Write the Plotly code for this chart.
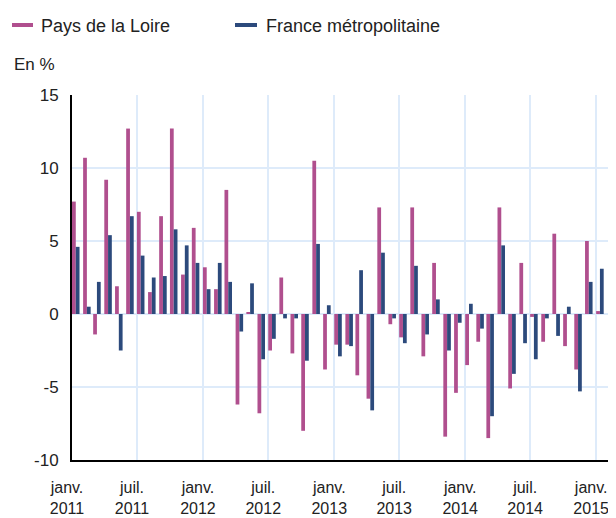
import plotly.graph_objects as go

months = [f"{y}-{m:02d}-01" for y in range(2011, 2015) for m in range(1, 13)] + ["2015-01-01"]

pays_de_la_loire = [
    7.7, 10.7, -1.4, 9.2, 1.9, 12.7, 7.0, 1.5, 6.7, 12.7, 2.7, 5.9,
    3.2, 1.7, 8.5, -6.2, 0.1, -6.8, -2.5, 2.5, -2.7, -8.0, 10.5, -3.8,
    -2.1, -2.1, -4.2, -5.8, 7.3, -0.7, -1.6, 7.3, -2.9, 3.5, -8.4, -5.4,
    -3.5, -1.9, -8.5, 7.3, -5.1, 3.5, -0.2, -1.9, 5.5, -2.2, -3.8, 5.0,
    0.2,
]
france_metro = [
    4.6, 0.5, 2.2, 5.4, -2.5, 6.7, 4.0, 2.5, 2.6, 5.8, 4.7, 3.5,
    1.7, 3.5, 2.2, -1.2, 2.1, -3.1, -1.7, -0.3, -0.3, -3.2, 4.8, 0.6,
    -2.9, -2.2, 3.0, -6.6, 4.2, -0.3, -2.0, 3.3, -1.4, 1.0, -2.5, -0.6,
    0.7, -1.0, -7.0, 4.7, -4.1, -2.0, -3.1, -0.3, -1.5, 0.5, -5.3, 2.2,
    3.1,
]
series_names = ["Pays de la Loire", "France métropolitaine"]
tick_dates = ["2011-01-01", "2011-07-01", "2012-01-01", "2012-07-01", "2013-01-01",
              "2013-07-01", "2014-01-01", "2014-07-01", "2015-01-01"]
tick_labels = ["janv.<br>2011", "juil.<br>2011", "janv.<br>2012", "juil.<br>2012",
               "janv.<br>2013", "juil.<br>2013", "janv.<br>2014", "juil.<br>2014",
               "janv.<br>2015"]
y_ticks = [-10, -5, 0, 5, 10, 15]
y_tick_labels = ["-10", "-5", "0", "5", "10", "15"]
unit_label = "En %"

PINK = "#b04f8e"
BLUE = "#2c4a7c"
DAY = 86400000
W = 10.5 * DAY
FONT = "Liberation Sans, Arial, sans-serif"

fig = go.Figure()
fig.add_trace(go.Bar(x=months, y=pays_de_la_loire, name=series_names[0],
                     marker=dict(color=PINK, line=dict(width=0)),
                     width=[W] * len(months), offset=0))
fig.add_trace(go.Bar(x=months, y=france_metro, name=series_names[1],
                     marker=dict(color=BLUE, line=dict(width=0)),
                     width=[W] * len(months), offset=W))

# plot area in screenshot pixels; page body adds an 8px offset
OFF = 8
L, R, T, B = 72, 608, 95, 460
PW, PH = R - L, B - T
def px(x):
    return (x - L) / PW
def py(y):
    return (B - y) / PH

shapes = [
    dict(type="rect", xref="paper", yref="paper", x0=px(12), x1=px(33), y0=py(27), y1=py(23),
         fillcolor=PINK, line=dict(width=0)),
    dict(type="rect", xref="paper", yref="paper", x0=px(235), x1=px(257), y0=py(27), y1=py(23),
         fillcolor=BLUE, line=dict(width=0)),
]
annotations = [
    dict(text=series_names[0], xref="paper", yref="paper", x=px(39), y=py(26),
         xanchor="left", yanchor="middle", showarrow=False,
         font=dict(family=FONT, size=18, color="#222")),
    dict(text=series_names[1], xref="paper", yref="paper", x=px(264), y=py(26),
         xanchor="left", yanchor="middle", showarrow=False,
         font=dict(family=FONT, size=18, color="#222")),
    dict(text=unit_label, xref="paper", yref="paper", x=px(12), y=py(64),
         xanchor="left", yanchor="middle", showarrow=False,
         font=dict(family=FONT, size=17, color="#222")),
]

fig.update_layout(
    width=616, height=518,
    margin=dict(l=L - OFF, r=616 - (R - OFF), t=T - OFF, b=518 - (B - OFF), pad=0,
                autoexpand=False),
    paper_bgcolor="white", plot_bgcolor="white",
    showlegend=False,
    barmode="overlay",
    shapes=shapes, annotations=annotations,
    font=dict(family=FONT, size=16, color="#222"),
)
fig.update_xaxes(
    type="date", range=["2011-01-01", "2015-02-03"], automargin=False,
    tickmode="array", tickvals=tick_dates, ticktext=tick_labels,
    showgrid=True, gridcolor="#deebfa", gridwidth=1.5,
    showline=True, linecolor="black", linewidth=2,
    ticks="outside", ticklen=12, tickcolor="rgba(0,0,0,0)",
    ticklabelshift=-5,
    tickfont=dict(family=FONT, size=16, color="#222"),
)
fig.update_yaxes(
    range=[-10, 15], tickmode="array", tickvals=y_ticks, ticktext=y_tick_labels,
    automargin=False,
    showgrid=True, gridcolor="#deebfa", gridwidth=1.5,
    zeroline=False,
    showline=True, linecolor="black", linewidth=2,
    ticks="outside", ticklen=8, tickcolor="rgba(0,0,0,0)",
    tickfont=dict(family=FONT, size=17, color="#222"),
)

fig.write_html("out.html")
